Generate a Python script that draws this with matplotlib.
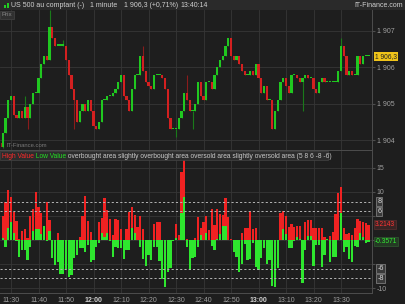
import matplotlib
matplotlib.use('Agg')
import matplotlib.pyplot as plt
from matplotlib.patches import Rectangle
from matplotlib.text import Annotation

plt.rcParams['font.family'] = ['Liberation Sans', 'DejaVu Sans']

# ---------------- data ----------------
closes = [1904.2, 1904.6, 1905.1, 1905.2, 1904.7, 1904.6, 1904.8, 1904.6, 1904.9, 1904.6,
          1905.0, 1905.3, 1905.3, 1905.7, 1906.1, 1906.3, 1906.2, 1907.1, 1906.8, 1906.6,
          1906.6, 1906.6, 1906.6, 1906.2, 1905.8, 1905.4, 1905.1, 1904.5, 1904.8, 1905.0,
          1904.8, 1905.1, 1904.8, 1904.4, 1904.3, 1904.5, 1905.1, 1905.1, 1905.2, 1905.2,
          1905.3, 1905.4, 1905.6, 1905.8, 1905.2, 1905.1, 1904.8, 1905.4, 1905.8, 1905.8,
          1906.3, 1905.9, 1905.6, 1905.5, 1905.4, 1905.8, 1905.8, 1905.8, 1905.7, 1905.4,
          1904.6, 1904.3, 1904.3, 1904.3, 1904.6, 1904.8, 1905.3, 1905.1, 1904.8, 1904.8,
          1905.0, 1905.6, 1905.2, 1905.1, 1905.6, 1905.6, 1905.4, 1905.8, 1906.0, 1906.2,
          1906.3, 1906.6, 1906.8, 1906.3, 1906.2, 1906.3, 1906.1, 1905.9, 1905.8, 1905.8,
          1905.9, 1905.8, 1906.1, 1905.7, 1905.3, 1905.5, 1905.1, 1905.1, 1904.3, 1904.8,
          1905.1, 1905.6, 1905.7, 1905.5, 1905.3, 1905.8, 1905.8, 1905.7, 1905.6, 1905.7,
          1905.8, 1905.7, 1905.7, 1905.4, 1905.3, 1905.6, 1905.7, 1905.6, 1905.6, 1905.6,
          1905.6, 1905.6, 1905.9, 1906.6, 1906.3, 1905.8, 1905.9, 1905.8, 1905.8, 1906.3,
          1906.1, 1906.3, 1906.3, 1906.3]
first_open = 1903.8
wick_high = {17: 1907.57, 51: 1906.6, 67: 1905.8, 123: 1906.8, 8: 1905.2, 22: 1906.75}
wick_low = {0: 1903.78, 9: 1904.3, 26: 1904.3, 63: 1904.1, 69: 1904.3, 109: 1904.8, 99: 1904.3}

high_value = [5.0, 8.0, 10.4, 9.0, 5.9, 4.0, 0.3, 1.9, 2.2, 0.5,
              5.0, 6.4, 10.1, 6.9, 5.6, 3.0, 8.0, 4.2, 0.0, 0.0,
              1.4, 0.0, 0.0, 0.0, 0.0, 0.0, 0.0, 0.0, 0.6, 4.9,
              9.2, 4.0, 1.6, 0.0, 0.0, 3.8, 4.5, 8.7, 6.3, 4.4,
              1.0, 4.3, 4.2, 2.2, 0.0, 2.2, 5.8, 6.8, 5.2, 2.8,
              5.0, 2.2, 0.0, 0.0, 0.0, 3.3, 3.7, 3.7, 0.0, 0.0,
              0.0, 0.0, 0.0, 3.4, 1.0, 14.2, 17.0, 0.3, 0.0, 0.0,
              0.5, 4.7, 2.4, 3.8, 4.9, 2.1, 6.5, 3.1, 6.4, 5.4,
              5.2, 8.7, 4.7, 0.3, 0.0, 0.0, 0.1, 1.4, 2.4, 2.4,
              6.0, 2.2, 2.4, 0.0, 0.0, 0.0, 0.0, 0.0, 0.0, 0.0,
              0.0, 5.7, 6.1, 4.9, 2.8, 3.3, 2.8, 2.9, 2.9, 0.0,
              3.8, 4.2, 4.2, 2.4, 2.4, 2.4, 2.4, 0.7, 0.3, 0.8,
              1.7, 5.4, 9.7, 11.0, 2.4, 1.3, 1.5, 1.0, 2.4, 4.4,
              4.0, 3.8, 3.5, 3.2143]
low_value = [0.5, -1.5, 2.6, 3.8, 1.5, -0.3, -3.5, -2.0, -2.0, -4.2,
             -1.4, 1.9, 2.3, 2.3, 1.3, 3.0, -0.3, 1.8, -3.8, -5.2,
             -4.5, -7.0, -7.0, -6.0, -7.8, -7.3, -3.8, -3.1, -1.7, -1.7,
             -2.4, -1.0, -4.5, -4.2, -1.4, -0.7, 1.5, 0.6, 1.5, -0.3,
             -3.6, -1.5, -1.7, -1.7, -4.0, -2.0, -2.1, 2.6, 1.5, 0.0,
             -1.4, -4.0, -5.4, -3.1, -4.2, -1.4, -1.4, -4.3, -8.2, -9.7,
             -6.6, -5.9, -0.3, 0.4, 0.0, 5.6, 9.0, -1.4, -6.3, -3.8,
             -3.5, -1.5, 1.0, 0.1, 1.5, 0.0, -1.3, -2.0, 0.3, 1.3,
             3.0, 3.0, 0.0, 0.1, -2.4, -3.5, -6.6, -4.9, -0.8, -4.2,
             -4.0, -0.7, -5.6, -6.3, -3.8, -1.7, -5.0, -4.2, -9.6, -9.7,
             -5.9, 0.0, 2.2, 1.3, -1.7, -1.7, -0.3, 0.7, 0.3, -8.9,
             -2.1, 0.8, 0.8, -5.4, -1.0, -1.0, -5.7, -3.1, 0.3, -4.5,
             -3.5, -3.5, 0.1, 5.6, -2.4, -1.5, -4.0, -4.5, -1.2, -1.4,
             1.5, 0.7, -0.6, -0.3571]

tick_minutes = [3, 13, 23, 33, 43, 53, 63, 73, 83, 93, 103, 113, 123]
tick_labels = ['11:30', '11:40', '11:50', '12:00', '12:10', '12:20', '12:30',
               '12:40', '12:50', '13:00', '13:10', '13:20', '13:30']
bold_labels = ['12:00', '13:00']
price_ticks = [1904, 1905, 1906, 1907]
price_tick_labels = ['1 904', '1 905', '1 906', '1 907']
osc_ticks = [15, 10, 5, 0, -5, -10]
osc_tick_labels = ['15', '10', '', '', '', '-10']   # 5, 0, -5 are hidden behind value boxes
levels = [8, 6, -6, -8]
last_price_label = '1 906,3'
high_label = '3.2143'
low_label = '-0.3571'
legend_parts = [('High Value', '#ff2a2a'), (' Low Value', '#22e022'),
                (' overbought area slightly overbought area oversold area slightly oversold area (5 8 6 -8 -6)', '#c8c8c8')]

# ---------------- style ----------------
BG = '#1e1e1e'
GRID = '#363636'
SPINE = '#4d4d4d'
TXT = '#a0a0a0'
UP = '#20c820'
DOWN = '#d42020'
UP_W = '#1a7a1a'
DOWN_W = '#8a1c1c'
HRED = '#f02222'
LGREEN = '#2ee62e'

W, H = 405, 304
def fx(px): return px / W
def fy(py): return 1 - py / H

fig = plt.figure(figsize=(4.05, 3.04), dpi=100, facecolor=BG)

ax1 = fig.add_axes([0, fy(150), fx(372), fy(10) - fy(150)], facecolor=BG)
ax2 = fig.add_axes([0, fy(293), fx(372), fy(151) - fy(293)], facecolor=BG)

xmin, xmax = -1.0, 134.27
n = len(closes)
idx = list(range(n))
opens = [first_open] + closes[:-1]

# candles
for i in idx:
    o, c = opens[i], closes[i]
    up = c >= o
    hi = max(o, c, wick_high.get(i, max(o, c)))
    lo = min(o, c, wick_low.get(i, min(o, c)))
    ax1.vlines(i, lo, hi, color=UP_W if up else DOWN_W, lw=0.8, zorder=2)
    ax1.bar(i, max(abs(c - o), 0.03), bottom=min(o, c), width=0.85,
            color=UP if up else DOWN, linewidth=0, zorder=3)

ax1.set_xlim(xmin, xmax)
ax1.set_ylim(1903.73, 1907.575)
ax1.set_xticks(tick_minutes)
ax1.set_yticks(price_ticks)
ax1.set_yticklabels(price_tick_labels)
ax1.yaxis.tick_right()
ax1.tick_params(axis='x', length=0, labelbottom=False)
ax1.tick_params(axis='y', length=2, colors=SPINE, labelcolor=TXT, labelsize=5, pad=1.5)
ax1.grid(True, color=GRID, lw=0.6)
for s in ['top', 'left']:
    ax1.spines[s].set_visible(False)
for s in ['right', 'bottom']:
    ax1.spines[s].set_color(SPINE)
    ax1.spines[s].set_linewidth(0.7)

# last price label
ax1.text(1.008, closes[-1], last_price_label, transform=ax1.get_yaxis_transform(),
         ha='left', va='center', fontsize=4.8, color='#222222', zorder=5,
         bbox=dict(boxstyle='square,pad=0.15', fc='#f0c419', ec='none'), clip_on=False)

# Prix box
ax1.text(0.004, 0.985, 'Prix', transform=ax1.transAxes, ha='left', va='top', fontsize=4.5,
         color='#8a8a8a', bbox=dict(boxstyle='square,pad=0.25', fc='#303030', ec='#444444', lw=0.5))
# watermark
ax1.text(0.018, 0.015, 'IT-Finance.com', transform=ax1.transAxes, ha='left', va='bottom',
         fontsize=4.2, color='#7a7a7a')
ax1.add_patch(Rectangle((0.004, 0.02), 0.006, 0.03, transform=ax1.transAxes, color='#aa2222', lw=0))

# oscillator histogram
ax2.bar(idx, high_value, width=0.85, color=HRED, linewidth=0, zorder=3)
ax2.bar(idx, low_value, width=0.85, color=LGREEN, linewidth=0, zorder=4)
for lv in levels:
    ax2.axhline(lv, color='#b4b4b4', lw=0.7, ls=(0, (2.2, 2.2)), zorder=5)

ax2.set_xlim(xmin, xmax)
ax2.set_ylim(-11.04, 18.54)
ax2.set_yticks(osc_ticks)
ax2.set_yticklabels(osc_tick_labels)
ax2.yaxis.tick_right()
ax2.tick_params(axis='y', length=2, colors=SPINE, labelcolor=TXT, labelsize=5, pad=1.5)
ax2.set_xticks(tick_minutes)
ax2.set_xticklabels(tick_labels)
ax2.tick_params(axis='x', length=0, labelcolor=TXT, labelsize=5, pad=3)
for lab in ax2.get_xticklabels():
    if lab.get_text() in bold_labels:
        lab.set_fontweight('bold')
        lab.set_color('#d0d0d0')
ax2.grid(True, color=GRID, lw=0.6, zorder=0)
ax2.set_axisbelow(True)
for s in ['top', 'left']:
    ax2.spines[s].set_visible(False)
for s in ['right', 'bottom']:
    ax2.spines[s].set_color(SPINE)
    ax2.spines[s].set_linewidth(0.7)

ytr = ax2.get_yaxis_transform()
for lv in levels:
    ax2.text(1.014, lv, str(lv), transform=ytr, ha='left', va='center', fontsize=5.2,
             color='#d8d8d8', zorder=6, clip_on=False,
             bbox=dict(boxstyle='square,pad=0.12', fc='#3a3a3a', ec='#8a8a8a', lw=0.5))
ax2.text(1.008, high_value[-1], high_label, transform=ytr, ha='left', va='center', fontsize=4.8,
         color='#ff3535', zorder=6, clip_on=False,
         bbox=dict(boxstyle='square,pad=0.15', fc='#3a2424', ec='#5a3030', lw=0.5))
ax2.text(1.008, low_value[-1], low_label, transform=ytr, ha='left', va='center', fontsize=4.8,
         color='#33ee33', zorder=6, clip_on=False,
         bbox=dict(boxstyle='square,pad=0.15', fc='#243a24', ec='#305a30', lw=0.5))

# legend strip
fig.patches.append(Rectangle((fx(0), fy(160)), fx(328), fy(151) - fy(160), transform=fig.transFigure,
                             fc='#2c2c2c', ec='#444444', lw=0.5, zorder=5))
prev = fig.text(fx(2), fy(158.3), legend_parts[0][0], color=legend_parts[0][1], fontsize=4.75,
                ha='left', va='baseline', zorder=7)
for txt, col in legend_parts[1:]:
    a = Annotation(txt, xy=(1, 0), xycoords=prev, ha='left', va='bottom', color=col,
                   fontsize=4.75, annotation_clip=False)
    a.set_zorder(7)
    fig.add_artist(a)
    prev = a

# header strip
fig.patches.append(Rectangle((0, fy(10)), 1, fy(0) - fy(10), transform=fig.transFigure,
                             fc='#2a2a2a', ec='none', zorder=0))
fig.patches.append(Rectangle((fx(4), fy(8)), fx(1.5), fy(5) - fy(8), transform=fig.transFigure,
                             fc='#22cc22', ec='none'))
fig.patches.append(Rectangle((fx(6.5), fy(8)), fx(2), fy(2.5) - fy(8), transform=fig.transFigure,
                             fc='#22cc22', ec='none'))
hdr = [(11, 'US 500 au comptant (-)'), (90, '1 minute'), (124, '1 906,3 (+0,71%)'), (180, '13:40:14')]
for px, t in hdr:
    fig.text(fx(px), fy(5.2), t, color='#d0d0d0', fontsize=5.0, ha='left', va='center')
fig.text(fx(403), fy(5.2), 'IT-Finance.com', color='#d0d0d0', fontsize=5.0, ha='right', va='center')

fig.savefig('out.png', dpi=100, facecolor=BG)
